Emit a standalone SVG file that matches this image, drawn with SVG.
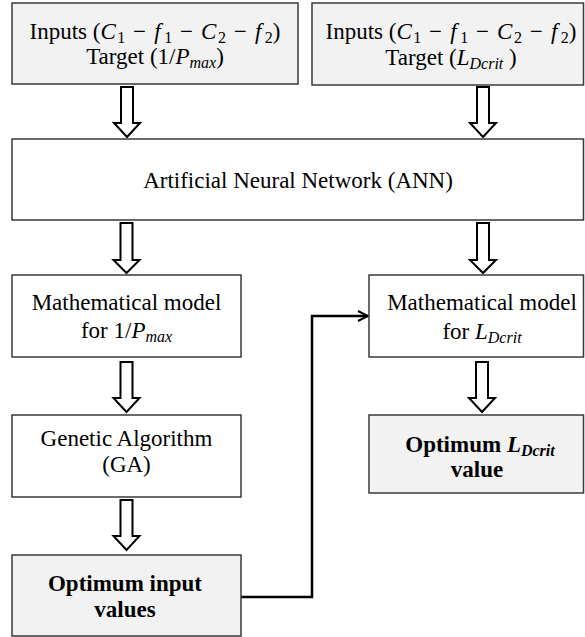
<svg xmlns="http://www.w3.org/2000/svg" width="585" height="637" viewBox="0 0 585 637">
<style>
.box{stroke:#3a3a3a;stroke-width:1.5;}
.g{fill:#f2f2f2;}
.w{fill:#ffffff;}
.t{font-family:"Liberation Serif","Times New Roman",serif;font-size:23px;fill:#000;text-anchor:middle;}
.b{font-weight:bold;}
.i{font-style:italic;}
.s{font-size:16px;}
.blk{fill:#fff;stroke:#000;stroke-width:2;stroke-linejoin:miter;}
.ln{fill:none;stroke:#000;stroke-width:2.5;}
</style>
<defs>
<marker id="ah" viewBox="0 0 10 10" refX="9" refY="5" markerWidth="5" markerHeight="5" orient="auto" markerUnits="strokeWidth">
<path d="M1,1 L9,5 L1,9" fill="none" stroke="#000" stroke-width="1.6"/>
</marker>
</defs>
<rect width="585" height="637" fill="#fff"/>

<g id="connectors">
<path class="blk" d="M121,87 H133 V123 H140 L127,137 L114,123 H121 Z"/>
<path class="blk" d="M477,87 H489 V123 H496 L483,137 L470,123 H477 Z"/>
<path class="blk" d="M120.5,223 H132.5 V260 H139.5 L126.5,273 L113.5,260 H120.5 Z"/>
<path class="blk" d="M477,223 H489 V260 H496 L483,273 L470,260 H477 Z"/>
<path class="blk" d="M120.5,362 H132.5 V398 H139.5 L126.5,412 L113.5,398 H120.5 Z"/>
<path class="blk" d="M476,362 H488 V398 H495 L482,412 L469,398 H476 Z"/>
<path class="blk" d="M120.5,500 H132.5 V536 H139.5 L126.5,550 L113.5,536 H120.5 Z"/>
<path class="ln" d="M241,597 H312 V316 H368" marker-end="url(#ah)"/>
</g>

<g id="inputs1">
<rect class="box g" x="12" y="3" width="286" height="81"/>
<text class="t" x="155" y="39">Inputs (<tspan class="i">C</tspan><tspan class="s" dy="4" dx="1.5">1</tspan><tspan dy="-4" dx="2"> − </tspan><tspan class="i" dx="2.5">f</tspan><tspan class="s" dy="4" dx="3.5">1</tspan><tspan dy="-4" dx="2"> − </tspan><tspan class="i" dx="2.5">C</tspan><tspan class="s" dy="4" dx="1.5">2</tspan><tspan dy="-4" dx="2"> − </tspan><tspan class="i" dx="2.5">f</tspan><tspan class="s" dy="4" dx="3.5">2</tspan><tspan dy="-4">)</tspan></text>
<text class="t" x="155" y="64">Target (1/<tspan class="i">P</tspan><tspan class="s i" dy="4">max</tspan><tspan dy="-4">)</tspan></text>
</g>

<g id="inputs2">
<rect class="box g" x="312" y="3" width="271.5" height="82"/>
<text class="t" x="451" y="39">Inputs (<tspan class="i">C</tspan><tspan class="s" dy="4" dx="1.5">1</tspan><tspan dy="-4" dx="2"> − </tspan><tspan class="i" dx="2.5">f</tspan><tspan class="s" dy="4" dx="3.5">1</tspan><tspan dy="-4" dx="2"> − </tspan><tspan class="i" dx="2.5">C</tspan><tspan class="s" dy="4" dx="1.5">2</tspan><tspan dy="-4" dx="2"> − </tspan><tspan class="i" dx="2.5">f</tspan><tspan class="s" dy="4" dx="3.5">2</tspan><tspan dy="-4">)</tspan></text>
<text class="t" x="451" y="65">Target (<tspan class="i">L</tspan><tspan class="s i" dy="4">Dcrit</tspan><tspan dy="-4"> )</tspan></text>
</g>

<g id="ann">
<rect class="box w" x="12" y="139" width="571.5" height="81"/>
<text class="t" x="298" y="188">Artificial Neural Network (ANN)</text>
</g>

<g id="math1">
<rect class="box w" x="12" y="275" width="229" height="82"/>
<text class="t" x="126.5" y="310">Mathematical model</text>
<text class="t" x="126.5" y="338">for 1/<tspan class="i">P</tspan><tspan class="s i" dy="4">max</tspan></text>
</g>

<g id="math2">
<rect class="box w" x="369" y="275" width="214.5" height="82"/>
<text class="t" x="482" y="310">Mathematical model</text>
<text class="t" x="482" y="339">for <tspan class="i">L</tspan><tspan class="s i" dy="4">Dcrit</tspan></text>
</g>

<g id="ga">
<rect class="box w" x="12" y="415" width="229" height="82"/>
<text class="t" x="126.5" y="446">Genetic Algorithm</text>
<text class="t" x="126.5" y="472">(GA)</text>
</g>

<g id="optL">
<rect class="box g" x="369" y="415" width="214.5" height="78"/>
<text class="t b" x="480" y="452">Optimum <tspan class="i">L</tspan><tspan class="s i" dy="4">Dcrit</tspan></text>
<text class="t b" x="477" y="477">value</text>
</g>

<g id="optIn">
<rect class="box g" x="12" y="555" width="229" height="81"/>
<text class="t b" x="125" y="591">Optimum input</text>
<text class="t b" x="125" y="617">values</text>
</g>
</svg>
